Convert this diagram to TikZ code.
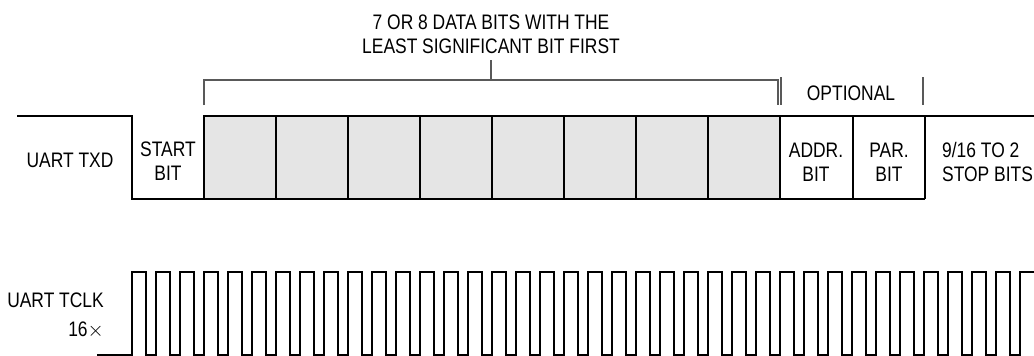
\documentclass[tikz,border=0pt]{standalone}
\usepackage{fontspec}
\setmainfont{Liberation Sans}[FakeStretch=0.83]
\begin{document}
\begin{tikzpicture}[x=1pt,y=-1pt,
  wave/.style={line width=2pt,line join=miter,black},
  brk/.style={line width=1.2pt,gray!70!black},
  lbl/.style={font=\fontsize{21}{24}\selectfont,inner sep=0pt,align=center,text=black},
  cell/.style={fill=gray!20}]
\useasboundingbox (0,0) rectangle (1034,356);
% data cells fill
\fill[cell] (204,116) rectangle (780,199);
% TXD waveform
\draw[wave] (17,116) -- (132,116) -- (132,199) -- (925,199);
\draw[wave] (204,199) -- (204,116) -- (1036,116);
\foreach \x in {276,348,420,492,564,636,708,780,853,925}
  \draw[wave] (\x,116) -- (\x,199);
% bracket for data bits
\coordinate (bl) at (204,105);
\coordinate (br) at (778,105);
\coordinate (stemtop) at (491,60);
\coordinate (stembot) at (491,80);
\draw[brk] (bl) -- (204,80) -- (778,80) -- (br);
\draw[brk] (stemtop) -- (stembot);
% optional separators
\coordinate (o1a) at (781,77); \coordinate (o1b) at (781,105);
\coordinate (o2a) at (923,77); \coordinate (o2b) at (923,105);
\draw[brk] (o1a) -- (o1b);
\draw[brk] (o2a) -- (o2b);
% labels
\node[lbl] (datalbl) at (491,34) {7 OR 8 DATA BITS WITH THE\\LEAST SIGNIFICANT BIT FIRST};
\node[lbl] (optional) at (851,93) {OPTIONAL};
\node[lbl] (txd) at (70,160) {UART TXD};
\node[lbl] (start) at (168,161) {START\\BIT};
\node[lbl] (addr) at (816,162) {ADDR.\\BIT};
\node[lbl] (par) at (889,162) {PAR.\\BIT};
\node[lbl,align=left,anchor=west] (stop) at (942,162) {9/16 TO 2\\STOP BITS};
\node[lbl,anchor=east] (tclk) at (104,300) {UART TCLK};
\node[lbl,anchor=east] (x16) at (104,330) {16$\times$};
% clock waveform
\draw[wave] (97,355)
  foreach \k in {0,...,36} {
    -- ({132+24*\k},355) -- ({132+24*\k},272) -- ({146+24*\k},272) -- ({146+24*\k},355)
  } -- (1020,355) -- (1020,272) -- (1036,272);
\end{tikzpicture}
\end{document}
